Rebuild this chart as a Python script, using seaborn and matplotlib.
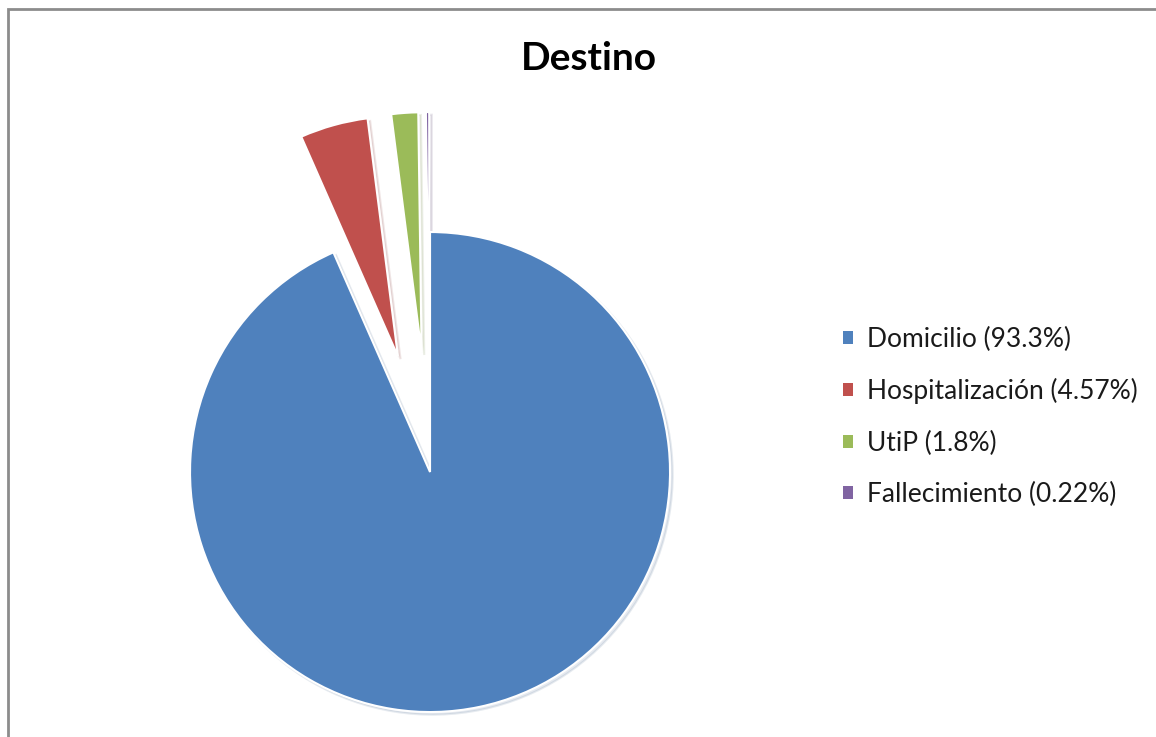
import matplotlib
matplotlib.use("Agg")
import matplotlib.pyplot as plt
from matplotlib.patches import Rectangle, Patch
import seaborn as sns

# Destino de los pacientes (%)
categories = ["Domicilio", "Hospitalización", "UtiP", "Fallecimiento"]
percentages = [93.3, 4.57, 1.8, 0.22]
explode = [0.0, 0.5, 0.5, 0.5]
colors = ["#4F81BD", "#C0504D", "#9BBB59", "#8064A2"]
labels = [f"{c} ({p:g}%)" for c, p in zip(categories, percentages)]

sns.set_theme(style="white")
plt.rcParams["font.family"] = ["Lato", "DejaVu Sans"]

fig = plt.figure(figsize=(11.56, 7.37), dpi=100)
fig.patch.set_facecolor("white")

# Outer chart frame
fig.patches.append(Rectangle((8 / 1156, -0.05), 1.2, 1 - 9 / 737 + 0.05,
                             transform=fig.transFigure, fill=False,
                             edgecolor="#8c8c8c", linewidth=2.0, zorder=0))

ax = fig.add_axes([0.154, 0.0176, 0.436, 0.8467])
wedges, _ = ax.pie(
    percentages,
    colors=colors,
    explode=explode,
    startangle=90,
    counterclock=False,
    radius=1.0,
    wedgeprops=dict(edgecolor="white", linewidth=1.5),
    shadow=dict(ox=0.008, oy=-0.008, shade=0.3, alpha=0.12),
)
ax.set_xlim(-1.05, 1.05)
ax.set_ylim(-1.05, 1.55)
ax.set_aspect("auto")
ax.axis("off")

fig.text(589 / 1156, 1 - 58 / 737, "Destino", ha="center", va="center",
         fontsize=28, fontweight="bold", color="black")

# Plain square legend keys in the slice colours
handles = [Patch(facecolor=c, edgecolor="none") for c in colors]
leg = fig.legend(
    handles, labels,
    loc="center left",
    bbox_to_anchor=(832 / 1156, 1 - 417 / 737),
    frameon=False,
    fontsize=19,
    handlelength=0.38,
    handleheight=0.38,
    handletextpad=0.55,
    labelspacing=1.0,
    borderaxespad=0,
)
for t in leg.get_texts():
    t.set_color("#1a1a1a")

fig.savefig("out.png", dpi=100, facecolor="white")
